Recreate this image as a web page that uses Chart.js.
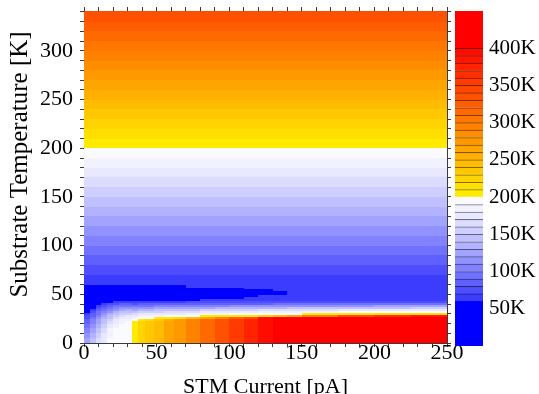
<!DOCTYPE html>
<html>
<head>
<meta charset="utf-8">
<script src="https://cdn.jsdelivr.net/npm/chart.js@4.4.0/dist/chart.umd.min.js"></script>
<style>
  html, body { margin: 0; padding: 0; background: #fff; }
  #wrap { position: relative; width: 539px; height: 394px; overflow: hidden; }
  #wrap canvas { position: absolute; left: 0; top: 0; }
</style>
</head>
<body>
<div id="wrap">
  <canvas id="field" width="539" height="394"></canvas>
  <canvas id="bar" width="539" height="394"></canvas>
</div>
<script>
// Axis ranges and labels
const xLimitsPA = [0, 250];
const yLimitsK = [0, 341];
const xTickLabels = [0, 50, 100, 150, 200, 250];
const yTickLabels = [0, 50, 100, 150, 200, 250, 300];
const colorbarLabelsK = [50, 100, 150, 200, 250, 300, 350, 400];
const colorbarEdgesK = [0, 60, 70, 80, 90, 100, 110, 120, 130, 140, 150, 160, 170, 180, 190, 200,
  210, 220, 230, 240, 250, 260, 270, 280, 290, 300, 310, 320, 330, 340, 350, 360, 370, 380, 390, 400, 450];

// Above ~60 K the local temperature just follows the substrate (10 K contour bands)
const upperBandsK = [60, 70, 80, 90, 100, 110, 120, 130, 140, 150, 160, 170, 180, 190, 200,
  210, 220, 230, 240, 250, 260, 270, 280, 290, 300, 310, 320, 330, 340];

// Low-temperature part of the map (local temperature in K)
const colEdgesPA = [0, 4, 8, 12, 16, 20, 24, 28, 33, 37, 42, 48, 55, 62, 70, 80, 90, 100, 110, 120, 130, 140, 150, 175, 200, 225, 250];
const rowEdgesK = [0, 5, 10, 15, 20, 23, 25, 27, 29, 31, 33, 35, 37, 39, 41, 43, 45, 47, 49, 51, 53, 55, 57, 60];
const lowFieldK = [
  [125, 145, 162, 178, 190, 195, 197, 198, 208, 220, 232, 246, 262, 278, 296, 316, 336, 356, 376, 392, 405, 415, 420, 420, 420, 420],
  [116, 138, 156, 174, 187, 194, 197, 198, 208, 220, 232, 246, 262, 278, 296, 316, 336, 356, 376, 392, 405, 415, 420, 420, 420, 420],
  [106, 128, 148, 167, 182, 191, 195, 197, 208, 220, 232, 246, 262, 278, 296, 316, 336, 356, 376, 392, 405, 415, 420, 420, 420, 420],
  [95, 117, 138, 158, 174, 186, 192, 195, 208, 220, 232, 246, 262, 278, 296, 316, 336, 356, 376, 392, 405, 415, 420, 420, 420, 420],
  [86, 107, 128, 148, 165, 178, 186, 191, 202, 220, 232, 246, 262, 278, 296, 316, 336, 356, 376, 392, 405, 415, 420, 420, 420, 420],
  [80, 100, 121, 140, 157, 171, 180, 186, 196, 205, 215, 230, 255, 278, 296, 316, 336, 356, 376, 392, 405, 415, 420, 420, 420, 420],
  [75, 94, 114, 133, 149, 163, 172, 179, 188, 195, 198, 200, 205, 215, 240, 260, 290, 320, 345, 392, 405, 415, 420, 420, 420, 420],
  [70, 87, 106, 124, 140, 154, 163, 170, 176, 184, 186, 188, 190, 192, 194, 200, 202, 205, 208, 220, 240, 260, 300, 340, 360, 380],
  [64, 80, 98, 114, 130, 143, 152, 159, 162, 170, 172, 174, 176, 178, 180, 186, 188, 192, 194, 196, 198, 199, 202, 205, 210, 215],
  [55, 72, 90, 104, 119, 131, 140, 146, 146, 154, 156, 158, 160, 162, 164, 170, 172, 176, 178, 180, 182, 184, 186, 190, 193, 196],
  [50, 64, 81, 94, 107, 118, 126, 131, 128, 136, 138, 140, 142, 144, 146, 150, 152, 156, 158, 160, 162, 164, 166, 170, 174, 178],
  [50, 55, 72, 83, 95, 104, 111, 115, 110, 117, 118, 120, 122, 124, 126, 128, 130, 133, 135, 137, 139, 140, 142, 145, 148, 152],
  [50, 50, 63, 72, 82, 90, 96, 99, 92, 98, 98, 100, 102, 104, 106, 107, 108, 110, 111, 112, 113, 114, 116, 118, 120, 122],
  [50, 50, 50, 61, 70, 76, 80, 82, 76, 80, 80, 82, 83, 85, 86, 87, 88, 88, 89, 89, 90, 90, 90, 91, 92, 94],
  [50, 50, 50, 50, 58, 62, 64, 66, 64, 66, 66, 67, 68, 69, 70, 71, 72, 72, 73, 73, 73, 73, 73, 72, 72, 72],
  [50, 50, 50, 50, 50, 50, 50, 54, 52, 55, 56, 57, 58, 59, 59, 61, 62, 63, 64, 65, 65, 65, 65, 65, 65, 65],
  [50, 50, 50, 50, 50, 50, 50, 50, 50, 50, 50, 50, 50, 50, 50, 55, 56, 58, 61, 63, 64, 65, 65, 65, 65, 65],
  [50, 50, 50, 50, 50, 50, 50, 50, 50, 50, 50, 50, 50, 50, 50, 50, 50, 50, 52, 60, 63, 65, 65, 65, 65, 65],
  [50, 50, 50, 50, 50, 50, 50, 50, 50, 50, 50, 50, 50, 50, 50, 50, 50, 50, 50, 52, 59, 65, 65, 65, 65, 65],
  [50, 50, 50, 50, 50, 50, 50, 50, 50, 50, 50, 50, 50, 50, 50, 50, 50, 50, 50, 52, 56, 65, 65, 65, 65, 65],
  [50, 50, 50, 50, 50, 50, 50, 50, 50, 50, 50, 50, 50, 50, 50, 50, 50, 50, 54, 59, 62, 65, 65, 65, 65, 65],
  [50, 50, 50, 50, 50, 50, 50, 50, 50, 50, 50, 50, 50, 50, 50, 50, 50, 58, 61, 63, 64, 65, 65, 65, 65, 65],
  [52, 52, 52, 52, 52, 52, 52, 52, 55, 55, 55, 55, 55, 55, 62, 62, 62, 63, 63, 64, 64, 65, 65, 65, 65, 65]
];

// Discrete colour map: blue < 60 K, blue→white up to 200 K, yellow→red up to 400 K, red above
function levelRGB(v) {
  if (v < 60) return [0, 0, 255];
  if (v < 200) {
    const t = 1 - Math.floor((v - 60) / 10) / 13;
    const c = Math.round(250 - 190 * Math.pow(t, 1.25));
    return [c, c, 255];
  }
  if (v < 400) {
    const g = Math.round(235 * (1 - Math.floor((v - 200) / 10) / 20));
    return [255, g, 0];
  }
  return [255, 0, 0];
}
const rgb = a => `rgb(${a.map(Math.round).join(',')})`;

const serif = 'Liberation Serif';
const axisLine = '#3a3a3a';

const heatmap = {
  id: 'heatmap',
  beforeDatasetsDraw(chart) {
    const { ctx, chartArea, scales: { x, y } } = chart;
    ctx.save();
    ctx.beginPath();
    ctx.rect(chartArea.left, chartArea.top, chartArea.width, chartArea.height);
    ctx.clip();
    const cell = (x0, x1, y0, y1, v) => {
      const l = Math.round(x.getPixelForValue(x0)), r = Math.round(x.getPixelForValue(x1));
      const b = Math.round(y.getPixelForValue(y0)), t = Math.round(y.getPixelForValue(y1));
      ctx.fillStyle = rgb(levelRGB(v));
      ctx.fillRect(l, t, r - l, b - t);
    };
    upperBandsK.forEach(lo => cell(xLimitsPA[0], xLimitsPA[1], lo, Math.min(lo + 10, yLimitsK[1]), lo + 5));
    lowFieldK.forEach((row, r) => row.forEach((v, c) =>
      cell(colEdgesPA[c], colEdgesPA[c + 1], rowEdgesK[r], rowEdgesK[r + 1], v)));
    ctx.restore();
  }
};

// keep Chart.js from reserving room for half labels at the axis ends
function noEdgePadding(s) {
  s.paddingTop = 0; s.paddingBottom = 0; s.paddingLeft = 0; s.paddingRight = 0;
}

function frameAxis(position, min, max, size, labels) {
  const horizontal = position === 'top' || position === 'bottom';
  return {
    type: 'linear', position, min, max, z: 1,
    afterFit: s => {
      if (horizontal) s.height = size; else s.width = size;
      noEdgePadding(s);
    },
    ticks: {
      stepSize: 10, autoSkip: false, includeBounds: false, maxRotation: 0,
      padding: horizontal ? 0 : 7, color: '#000',
      font: { family: serif, size: 22, lineHeight: 0.6 },
      callback: v => (labels && labels.includes(v)) ? String(v) : ''
    },
    grid: { drawOnChartArea: false, tickLength: 4, color: axisLine },
    border: { color: axisLine, width: 1 }
  };
}

const xAxis = frameAxis('bottom', xLimitsPA[0], xLimitsPA[1], 51, xTickLabels);
xAxis.title = { display: true, text: 'STM Current [pA]', color: '#000',
  font: { family: serif, size: 22, lineHeight: 0.64 }, padding: { top: 0, bottom: 0 } };
const yAxis = frameAxis('left', yLimitsK[0], yLimitsK[1], 84, yTickLabels);
yAxis.title = { display: true, text: '\u00a0\u00a0\u00a0\u00a0Substrate Temperature [K]', color: '#000',
  font: { family: serif, size: 25, lineHeight: 1 }, padding: { top: 7.5, bottom: 0 } };

new Chart(document.getElementById('field'), {
  type: 'scatter',
  data: { datasets: [{ data: [] }] },
  options: {
    responsive: false, animation: false,
    plugins: { legend: { display: false }, tooltip: { enabled: false } },
    scales: {
      x: xAxis,
      y: yAxis,
      x2: frameAxis('top', xLimitsPA[0], xLimitsPA[1], 11, null),
      y2: frameAxis('right', yLimitsK[0], yLimitsK[1], 92, null)
    }
  },
  plugins: [heatmap]
});

// Colour bar: one stacked segment per contour level
const barSets = colorbarEdgesK.slice(0, -1).map((lo, i) => {
  const hi = colorbarEdgesK[i + 1];
  const col = levelRGB((lo + hi) / 2);
  const lined = lo >= 60 && lo < 400 && lo !== 190;
  return {
    data: [hi - lo],
    backgroundColor: rgb(col),
    borderColor: rgb(col.map(c => c * 0.5)),
    borderWidth: { top: lined ? 1 : 0 },
    borderSkipped: false,
    categoryPercentage: 1, barPercentage: 1
  };
});

new Chart(document.getElementById('bar'), {
  type: 'bar',
  data: { labels: [''], datasets: barSets },
  options: {
    responsive: false, animation: false,
    layout: { padding: { left: 455, top: 11, bottom: 48, right: 0 } },
    plugins: { legend: { display: false }, tooltip: { enabled: false } },
    scales: {
      x: { display: false, stacked: true },
      y: {
        stacked: true, position: 'right', min: 0, max: 450,
        afterFit: s => { s.width = 56; noEdgePadding(s); },
        ticks: {
          stepSize: 50, includeBounds: false, padding: 6, color: '#000',
          font: { family: serif, size: 21 },
          callback: v => colorbarLabelsK.includes(v) ? v + 'K' : ''
        },
        grid: { display: false, drawTicks: false },
        border: { display: false }
      }
    }
  }
});
</script>
</body>
</html>
